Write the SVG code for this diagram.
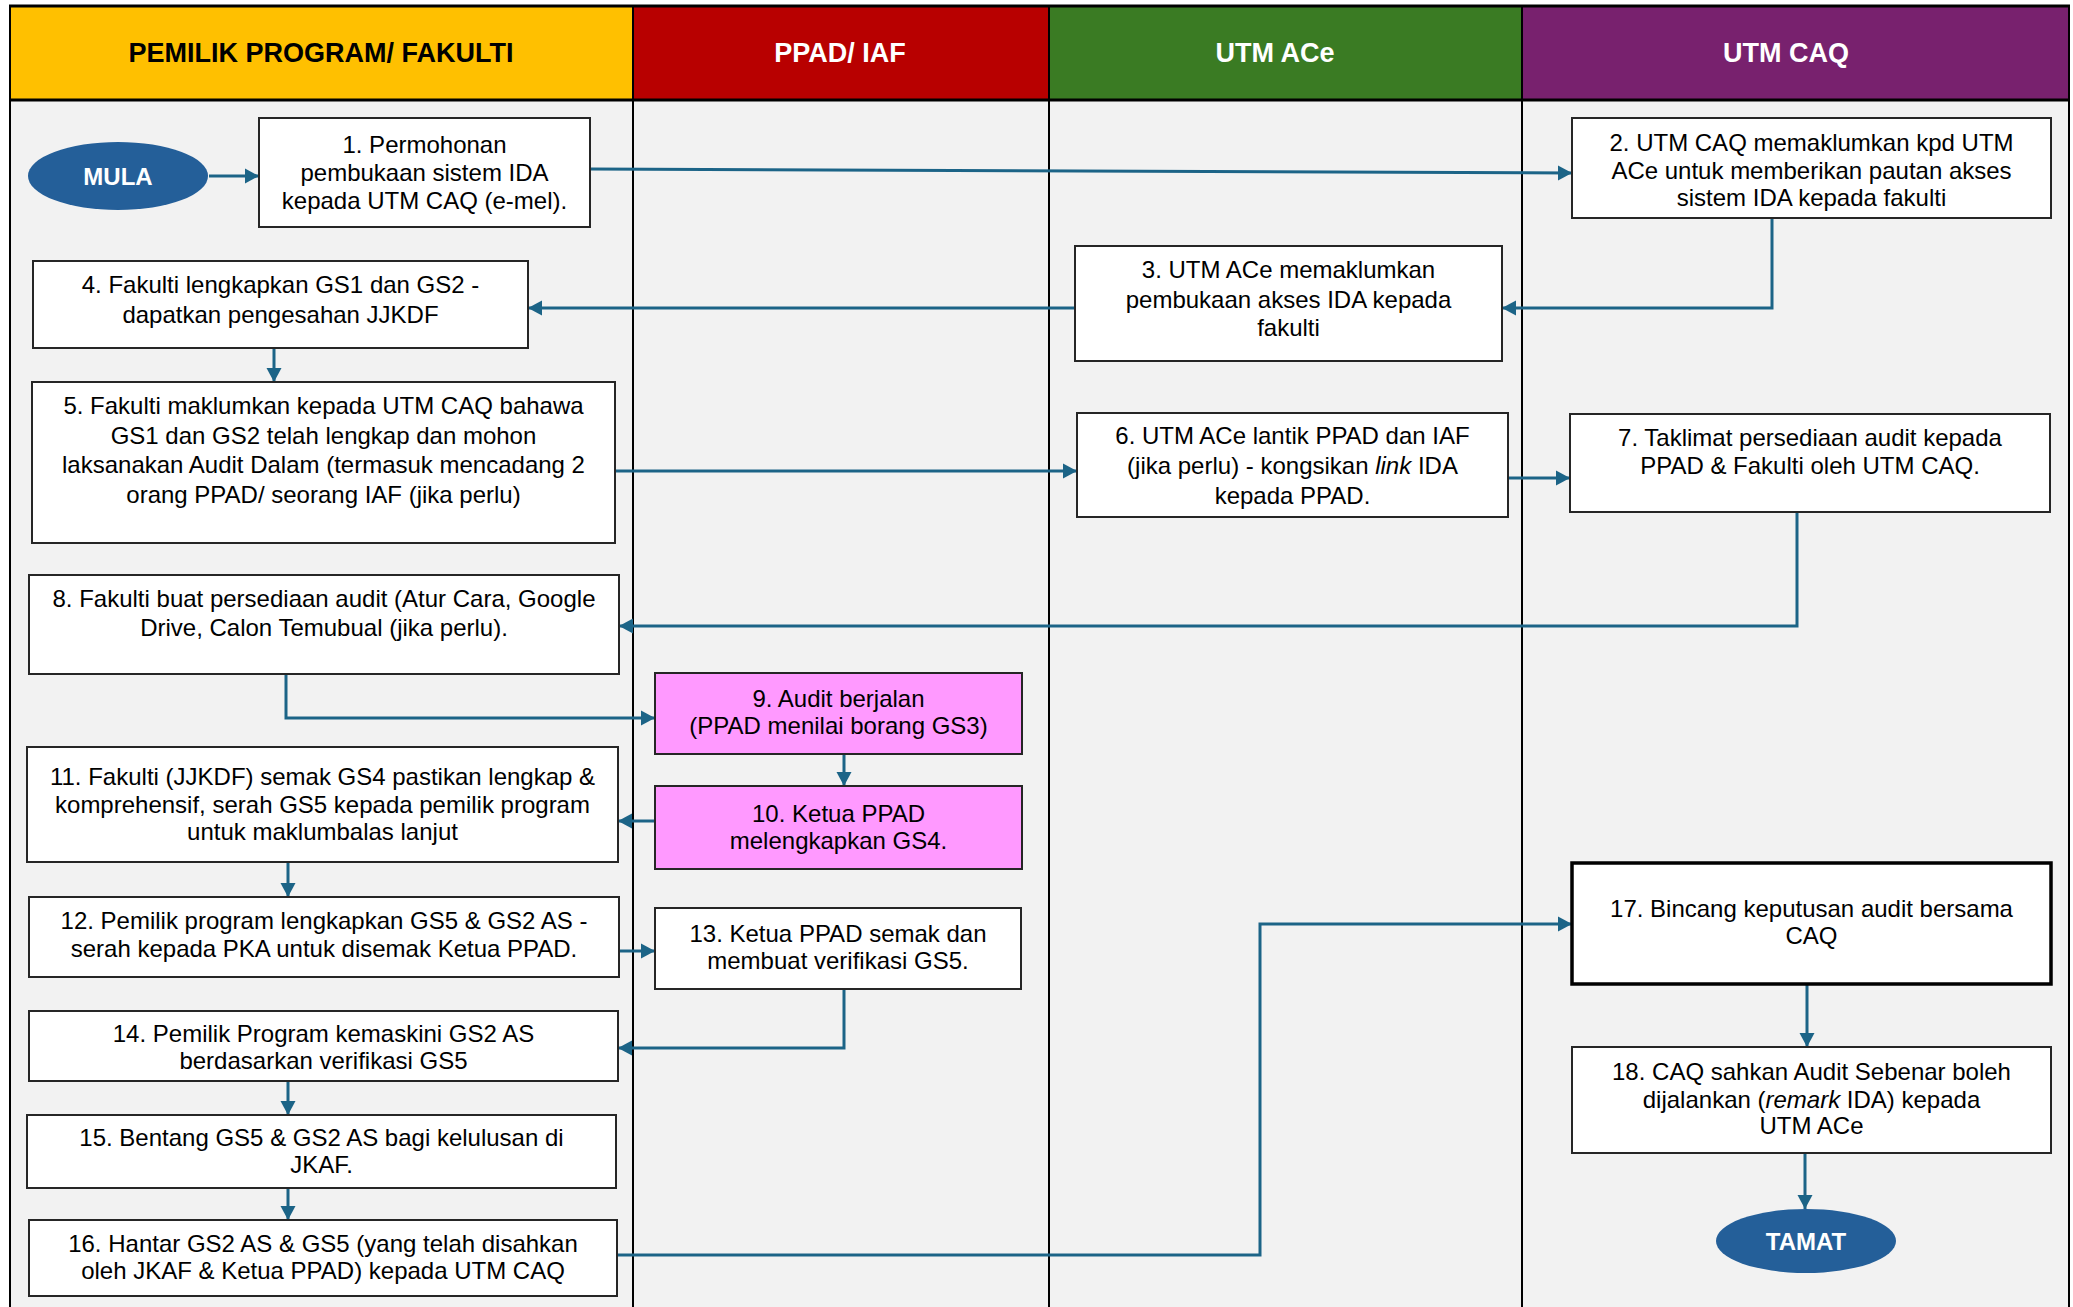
<svg xmlns="http://www.w3.org/2000/svg" width="2073" height="1307" viewBox="0 0 2073 1307">
<style>
.hdr{font-family:"Liberation Sans",Arial,sans-serif;font-weight:bold;font-size:27px;text-anchor:middle}
.box{fill:#FFFFFF;stroke:#262626;stroke-width:2}
.pink{fill:#FF99FF;stroke:#262626;stroke-width:2}
.t{font-family:"Liberation Sans",Arial,sans-serif;font-size:24px;fill:#000;text-anchor:middle}
.term{fill:#245F99}
.tt{font-family:"Liberation Sans",Arial,sans-serif;font-weight:bold;font-size:24px;fill:#FFF;text-anchor:middle}
.c{fill:none;stroke:#1C6487;stroke-width:3}
.lane{stroke:#000;stroke-width:2}
</style>
<defs>
<marker id="ah" markerUnits="userSpaceOnUse" markerWidth="16" markerHeight="16" refX="14" refY="8" orient="auto">
<path d="M0,0.5 L14,8 L0,15.5 Z" fill="#1C6487"/>
</marker>
</defs>
<rect x="0" y="0" width="2073" height="1307" fill="#FFFFFF"/>
<g id="lanes">
<rect x="10" y="100" width="2059" height="1210" fill="#F2F2F2"/>
<rect x="10" y="6" width="623" height="94" fill="#FFC000"/>
<rect x="633" y="6" width="416" height="94" fill="#B80000"/>
<rect x="1049" y="6" width="473" height="94" fill="#3A7B23"/>
<rect x="1522" y="6" width="547" height="94" fill="#78216E"/>
<line class="lane" x1="10" y1="6" x2="10" y2="1307"/>
<line class="lane" x1="633" y1="6" x2="633" y2="1307"/>
<line class="lane" x1="1049" y1="6" x2="1049" y2="1307"/>
<line class="lane" x1="1522" y1="6" x2="1522" y2="1307"/>
<line class="lane" x1="2069" y1="6" x2="2069" y2="1307"/>
<line x1="9" y1="6" x2="2070" y2="6" stroke="#000" stroke-width="3"/>
<line x1="9" y1="100" x2="2070" y2="100" stroke="#000" stroke-width="3"/>
<text class="hdr" x="321" y="62" fill="#000">PEMILIK PROGRAM/ FAKULTI</text>
<text class="hdr" x="840" y="62" fill="#FFF">PPAD/ IAF</text>
<text class="hdr" x="1275" y="62" fill="#FFF">UTM ACe</text>
<text class="hdr" x="1786" y="62" fill="#FFF">UTM CAQ</text>
</g>
<g id="connectors">
<path class="c" marker-end="url(#ah)" d="M209,176 L259,176"/>
<path class="c" marker-end="url(#ah)" d="M590,169 L1572,173"/>
<path class="c" marker-end="url(#ah)" d="M1772,218 L1772,308 L1502,308"/>
<path class="c" marker-end="url(#ah)" d="M1075,308 L528,308"/>
<path class="c" marker-end="url(#ah)" d="M274,348 L274,382"/>
<path class="c" marker-end="url(#ah)" d="M615,471 L1077,471"/>
<path class="c" marker-end="url(#ah)" d="M1508,478 L1570,478"/>
<path class="c" marker-end="url(#ah)" d="M1797,512 L1797,626 L619,626"/>
<path class="c" marker-end="url(#ah)" d="M286,674 L286,718 L655,718"/>
<path class="c" marker-end="url(#ah)" d="M844,754 L844,786"/>
<path class="c" marker-end="url(#ah)" d="M655,821 L618,821"/>
<path class="c" marker-end="url(#ah)" d="M288,862 L288,897"/>
<path class="c" marker-end="url(#ah)" d="M619,951 L655,951"/>
<path class="c" marker-end="url(#ah)" d="M844,989 L844,1048 L618,1048"/>
<path class="c" marker-end="url(#ah)" d="M288,1081 L288,1115"/>
<path class="c" marker-end="url(#ah)" d="M288,1188 L288,1220"/>
<path class="c" marker-end="url(#ah)" d="M617,1255 L1260,1255 L1260,924 L1572,924"/>
<path class="c" marker-end="url(#ah)" d="M1807,984 L1807,1047"/>
<path class="c" marker-end="url(#ah)" d="M1805,1153 L1805,1209"/>
</g>
<g id="mula">
<ellipse class="term" cx="118" cy="176" rx="90" ry="34"/>
<text class="tt" x="118" y="185">MULA</text>
</g>
<g id="n1">
<rect class="box" x="259" y="118" width="331" height="109"/>
<text class="t" x="424.5" y="153">1. Permohonan</text>
<text class="t" x="424.5" y="181">pembukaan sistem IDA</text>
<text class="t" x="424.5" y="209">kepada UTM CAQ (e-mel).</text>
</g>
<g id="n2">
<rect class="box" x="1572" y="118" width="479" height="100"/>
<text class="t" x="1811.5" y="151">2. UTM CAQ memaklumkan kpd UTM</text>
<text class="t" x="1811.5" y="179">ACe untuk memberikan pautan akses</text>
<text class="t" x="1811.5" y="206">sistem IDA kepada fakulti</text>
</g>
<g id="n3">
<rect class="box" x="1075" y="246" width="427" height="115"/>
<text class="t" x="1288.5" y="278">3. UTM ACe memaklumkan</text>
<text class="t" x="1288.5" y="308">pembukaan akses IDA kepada</text>
<text class="t" x="1288.5" y="336">fakulti</text>
</g>
<g id="n4">
<rect class="box" x="33" y="261" width="495" height="87"/>
<text class="t" x="280.5" y="293">4. Fakulti lengkapkan GS1 dan GS2 -</text>
<text class="t" x="280.5" y="323">dapatkan pengesahan JJKDF</text>
</g>
<g id="n5">
<rect class="box" x="32" y="382" width="583" height="161"/>
<text class="t" x="323.5" y="414">5. Fakulti maklumkan kepada UTM CAQ bahawa</text>
<text class="t" x="323.5" y="444">GS1 dan GS2 telah lengkap dan mohon</text>
<text class="t" x="323.5" y="473">laksanakan Audit Dalam (termasuk mencadang 2</text>
<text class="t" x="323.5" y="503">orang PPAD/ seorang IAF (jika perlu)</text>
</g>
<g id="n6">
<rect class="box" x="1077" y="413" width="431" height="104"/>
<text class="t" x="1292.5" y="444">6. UTM ACe lantik PPAD dan IAF</text>
<text class="t" x="1292.5" y="474">(jika perlu) - kongsikan <tspan font-style="italic">link</tspan> IDA</text>
<text class="t" x="1292.5" y="504">kepada PPAD.</text>
</g>
<g id="n7">
<rect class="box" x="1570" y="414" width="480" height="98"/>
<text class="t" x="1810" y="446">7. Taklimat persediaan audit kepada</text>
<text class="t" x="1810" y="474">PPAD &amp; Fakulti oleh UTM CAQ.</text>
</g>
<g id="n8">
<rect class="box" x="29" y="575" width="590" height="99"/>
<text class="t" x="324" y="607">8. Fakulti buat persediaan audit (Atur Cara, Google</text>
<text class="t" x="324" y="636">Drive, Calon Temubual (jika perlu).</text>
</g>
<g id="n9">
<rect class="pink" x="655" y="673" width="367" height="81"/>
<text class="t" x="838.5" y="707">9. Audit berjalan</text>
<text class="t" x="838.5" y="734">(PPAD menilai borang GS3)</text>
</g>
<g id="n10">
<rect class="pink" x="655" y="786" width="367" height="83"/>
<text class="t" x="838.5" y="822">10. Ketua PPAD</text>
<text class="t" x="838.5" y="849">melengkapkan GS4.</text>
</g>
<g id="n11">
<rect class="box" x="27" y="747" width="591" height="115"/>
<text class="t" x="322.5" y="785">11. Fakulti (JJKDF) semak GS4 pastikan lengkap &amp;</text>
<text class="t" x="322.5" y="813">komprehensif, serah GS5 kepada pemilik program</text>
<text class="t" x="322.5" y="840">untuk maklumbalas lanjut</text>
</g>
<g id="n12">
<rect class="box" x="29" y="897" width="590" height="80"/>
<text class="t" x="324" y="929">12. Pemilik program lengkapkan GS5 &amp; GS2 AS -</text>
<text class="t" x="324" y="957">serah kepada PKA untuk disemak Ketua PPAD.</text>
</g>
<g id="n13">
<rect class="box" x="655" y="908" width="366" height="81"/>
<text class="t" x="838" y="942">13. Ketua PPAD semak dan</text>
<text class="t" x="838" y="969">membuat verifikasi GS5.</text>
</g>
<g id="n14">
<rect class="box" x="29" y="1011" width="589" height="70"/>
<text class="t" x="323.5" y="1042">14. Pemilik Program kemaskini GS2 AS</text>
<text class="t" x="323.5" y="1069">berdasarkan verifikasi GS5</text>
</g>
<g id="n15">
<rect class="box" x="27" y="1115" width="589" height="73"/>
<text class="t" x="321.5" y="1146">15. Bentang GS5 &amp; GS2 AS bagi kelulusan di</text>
<text class="t" x="321.5" y="1173">JKAF.</text>
</g>
<g id="n16">
<rect class="box" x="29" y="1220" width="588" height="76"/>
<text class="t" x="323" y="1252">16. Hantar GS2 AS &amp; GS5 (yang telah disahkan</text>
<text class="t" x="323" y="1279">oleh JKAF &amp; Ketua PPAD) kepada UTM CAQ</text>
</g>
<g id="n17">
<rect x="1572" y="863" width="479" height="121" fill="#FFF" stroke="#000" stroke-width="3.5"/>
<text class="t" x="1811.5" y="917">17. Bincang keputusan audit bersama</text>
<text class="t" x="1811.5" y="944">CAQ</text>
</g>
<g id="n18">
<rect class="box" x="1572" y="1047" width="479" height="106"/>
<text class="t" x="1811.5" y="1080">18. CAQ sahkan Audit Sebenar boleh</text>
<text class="t" x="1811.5" y="1108">dijalankan (<tspan font-style="italic">remark</tspan> IDA) kepada</text>
<text class="t" x="1811.5" y="1134">UTM ACe</text>
</g>
<g id="tamat">
<ellipse class="term" cx="1806" cy="1241" rx="90" ry="32"/>
<text class="tt" x="1806" y="1250">TAMAT</text>
</g>
</svg>
